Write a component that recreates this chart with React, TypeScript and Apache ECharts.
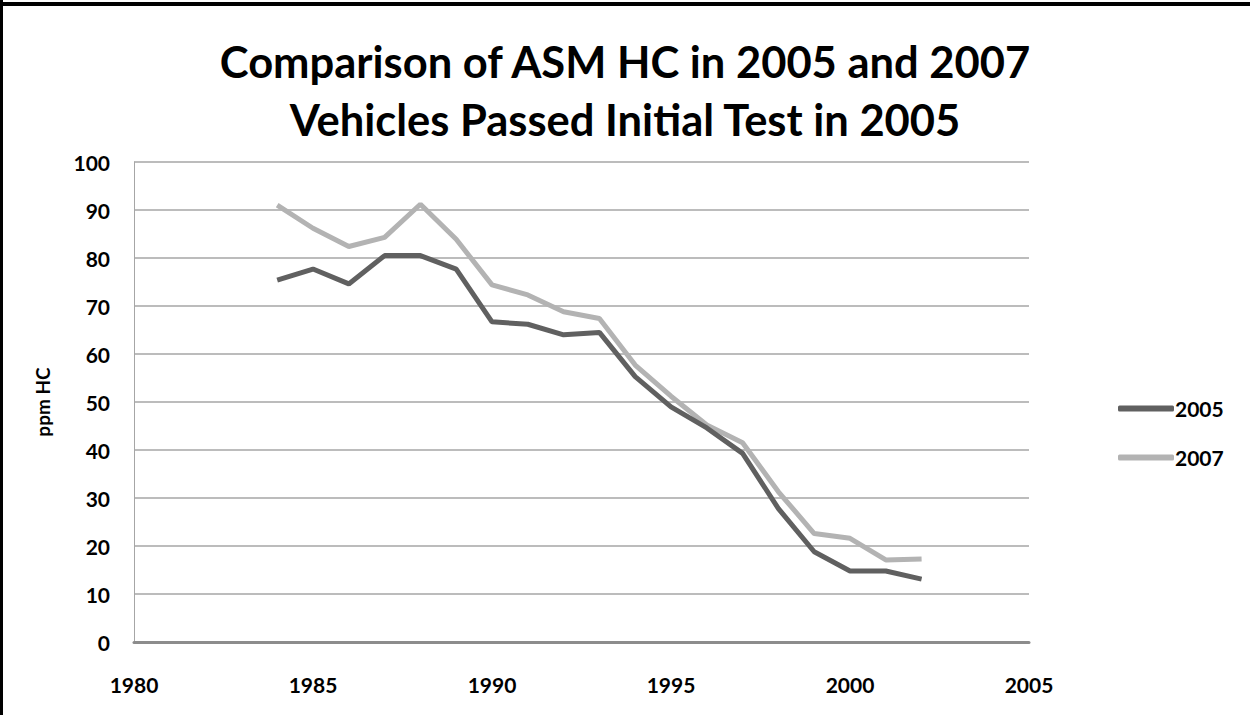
import React, { useEffect, useRef } from "react";
import * as echarts from "echarts";

const years = [1984, 1985, 1986, 1987, 1988, 1989, 1990, 1991, 1992, 1993, 1994, 1995, 1996, 1997, 1998, 1999, 2000, 2001, 2002];
const hc2005 = [75.4, 77.7, 74.6, 80.5, 80.5, 77.7, 66.7, 66.2, 64.0, 64.5, 55.3, 49.0, 44.6, 39.3, 27.8, 18.8, 14.8, 14.8, 13.1];
const hc2007 = [91.0, 86.2, 82.4, 84.3, 91.2, 83.9, 74.4, 72.3, 68.8, 67.4, 57.7, 51.2, 45.2, 41.5, 31.3, 22.6, 21.6, 17.1, 17.3];
const seriesNames = ["2005", "2007"];
const titleLines = ["Comparison of ASM HC in 2005 and 2007", "Vehicles Passed Initial Test in 2005"];
const yAxisName = "ppm HC";

const FONT = "Lato, 'Open Sans', sans-serif";

export default function App() {
  const ref = useRef<HTMLDivElement>(null);
  useEffect(() => {
    if (!ref.current) return;
    const chart = echarts.init(ref.current, null, { renderer: "svg" });
    const colors = ["#606060", "#b3b3b3"];
    chart.setOption({
      animation: false,
      backgroundColor: "#ffffff",
      title: {
        text: titleLines.join("\n"),
        left: "center",
        top: 27,
        textStyle: { fontFamily: FONT, fontWeight: "bold", fontSize: 43.5, lineHeight: 58, color: "#000" },
      },
      graphic: [
        { type: "rect", shape: { x: 0, y: 0, width: 3, height: 715 }, style: { fill: "#000" } },
        { type: "rect", shape: { x: 0, y: 2, width: 1250, height: 4 }, style: { fill: "#000" } },
      ],
      legend: {
        orient: "vertical",
        left: 1113,
        top: 393,
        itemWidth: 56,
        itemHeight: 6,
        itemGap: 28,
        icon: "roundRect",
        textStyle: { fontFamily: FONT, fontWeight: "bold", fontSize: 21, color: "#000", padding: [0, 0, 0, -4] },
        data: seriesNames,
      },
      grid: { left: 134, right: 221, top: 162, bottom: 73, containLabel: false },
      xAxis: {
        type: "value",
        min: 1980,
        max: 2005,
        interval: 5,
        axisLine: { show: true, lineStyle: { color: "#8c8c8c", width: 3 } },
        axisTick: { show: false },
        splitLine: { show: false },
        axisLabel: {
          margin: 32,
          fontFamily: FONT,
          fontWeight: "bold",
          fontSize: 21,
          color: "#000",
          formatter: (v: number) => String(v),
        },
      },
      yAxis: {
        type: "value",
        min: 0,
        max: 100,
        interval: 10,
        name: yAxisName,
        nameLocation: "middle",
        nameGap: 82,
        nameTextStyle: { fontFamily: FONT, fontWeight: "bold", fontSize: 19, color: "#000" },
        axisLine: { show: true, lineStyle: { color: "#a6a6a6", width: 1 } },
        axisTick: { show: false },
        splitLine: { show: true, lineStyle: { color: "#a6a6a6", width: 1.5 } },
        axisLabel: { margin: 24, fontFamily: FONT, fontWeight: "bold", fontSize: 21, color: "#000" },
      },
      series: [
        {
          name: seriesNames[0],
          type: "line",
          data: years.map((y, i) => [y, hc2005[i]]),
          showSymbol: false,
          symbol: "none",
          color: colors[0],
          lineStyle: { color: colors[0], width: 5 },
          z: 3,
        },
        {
          name: seriesNames[1],
          type: "line",
          data: years.map((y, i) => [y, hc2007[i]]),
          showSymbol: false,
          symbol: "none",
          color: colors[1],
          lineStyle: { color: colors[1], width: 5 },
          z: 2,
        },
      ],
    });
    return () => chart.dispose();
  }, []);
  return <div ref={ref} style={{ position: "fixed", left: 0, top: 0, width: 1250, height: 715 }} />;
}
